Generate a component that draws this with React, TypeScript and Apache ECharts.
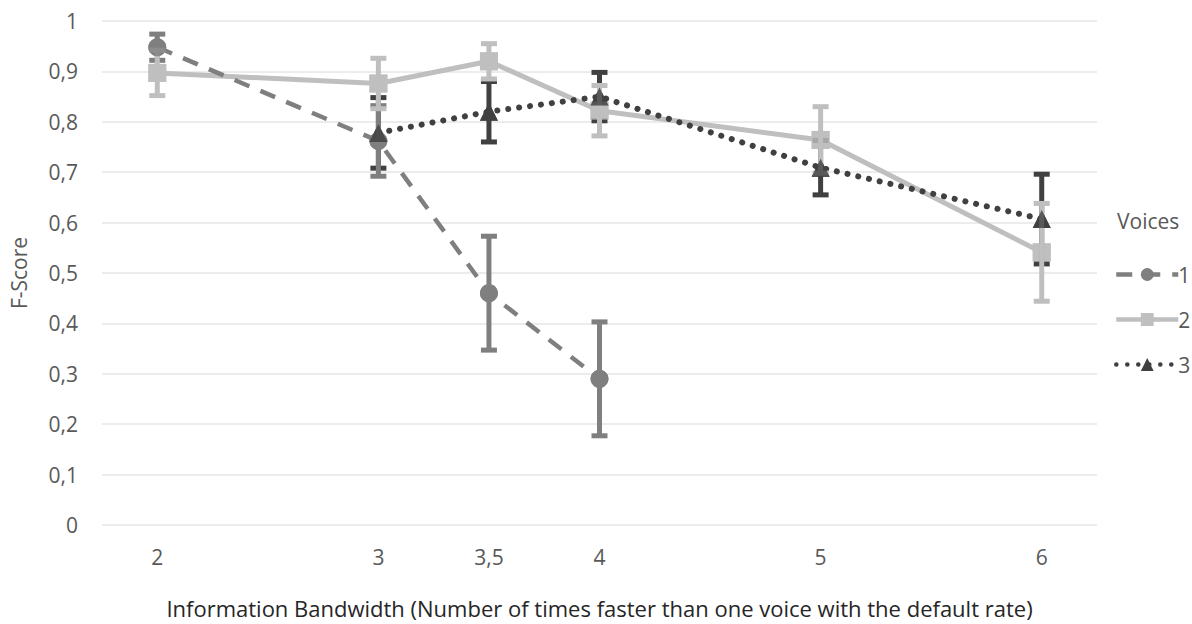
import React, { useEffect, useRef } from "react";
import * as echarts from "echarts";

const xTicks = [2, 3, 3.5, 4, 5, 6];
const yTickStep = 0.1;

const voices1X = [2, 3, 3.5, 4];
const voices1Y = [0.948, 0.762, 0.46, 0.29];
const voices1Err = [0.026, 0.07, 0.113, 0.113];

const voices2X = [2, 3, 3.5, 4, 5, 6];
const voices2Y = [0.897, 0.876, 0.92, 0.822, 0.764, 0.541];
const voices2Err = [0.045, 0.05, 0.035, 0.05, 0.066, 0.097];

const voices3X = [3, 3.5, 4, 5, 6];
const voices3Y = [0.778, 0.82, 0.85, 0.709, 0.607];
const voices3Err = [0.07, 0.06, 0.048, 0.054, 0.089];

const seriesNames = ["1", "2", "3"];
const colors = ["#7f7f7f", "#bfbfbf", "#404040"];

const FONT = "'Open Sans', 'Noto Sans', sans-serif";
const TEXT = "#595959";

function pairs(xs: number[], ys: number[]) {
  return xs.map((x, i) => [x, ys[i]]);
}
function errRows(xs: number[], ys: number[], es: number[]) {
  return xs.map((x, i) => [x, ys[i] - es[i], ys[i] + es[i]]);
}

function errorSeries(data: number[][], color: string, z: number) {
  return {
    type: "custom",
    z,
    silent: true,
    data,
    encode: { x: 0, y: [1, 2] },
    renderItem: (params: any, api: any) => {
      const x = api.value(0);
      const lo = api.coord([x, api.value(1)]);
      const hi = api.coord([x, api.value(2)]);
      const cap = 8;
      const st = { stroke: color, lineWidth: 5 };
      return {
        type: "group",
        children: [
          { type: "line", shape: { x1: lo[0], y1: lo[1], x2: hi[0], y2: hi[1] }, style: st },
          { type: "line", shape: { x1: lo[0] - cap, y1: lo[1], x2: lo[0] + cap, y2: lo[1] }, style: st },
          { type: "line", shape: { x1: hi[0] - cap, y1: hi[1], x2: hi[0] + cap, y2: hi[1] }, style: st },
        ],
      };
    },
  };
}

function markerSeries(data: number[][], symbol: string, color: string, z: number) {
  return {
    type: "scatter",
    z,
    silent: true,
    symbol,
    symbolSize: 18,
    itemStyle: { color },
    data,
  };
}

export default function App() {
  const ref = useRef<HTMLDivElement>(null);
  useEffect(() => {
    const chart = echarts.init(ref.current!, null, { renderer: "svg" });
    const d1 = pairs(voices1X, voices1Y);
    const d2 = pairs(voices2X, voices2Y);
    const d3 = pairs(voices3X, voices3Y);
    chart.setOption({
      animation: false,
      textStyle: { fontFamily: FONT },
      grid: { left: 102, right: 95, top: 21, bottom: 96, containLabel: false },
      xAxis: {
        type: "value",
        min: 1.75,
        max: 6.25,
        splitLine: { show: false },
        axisLine: { show: false },
        axisTick: { show: false },
        axisLabel: {
          customValues: xTicks,
          color: TEXT,
          fontSize: 21,
          fontFamily: FONT,
          margin: 21,
          formatter: (v: number) => String(v).replace(".", ","),
        },
        name: "Information Bandwidth (Number of times faster than one voice with the default rate)",
        nameLocation: "middle",
        nameGap: 72,
        nameTextStyle: { color: "#262626", fontSize: 22, fontFamily: FONT },
      },
      yAxis: {
        type: "value",
        min: 0,
        max: 1,
        interval: yTickStep,
        axisLine: { show: false },
        axisTick: { show: false },
        splitLine: { lineStyle: { color: "#e6e6e6", width: 1.5 } },
        axisLabel: {
          color: TEXT,
          fontSize: 21,
          fontFamily: FONT,
          margin: 24,
          formatter: (v: number) => String(Math.round(v * 10) / 10).replace(".", ","),
        },
        name: "F-Score",
        nameLocation: "middle",
        nameGap: 73,
        nameTextStyle: { color: TEXT, fontSize: 21, fontFamily: FONT },
      },
      legend: {
        data: seriesNames,
        orient: "vertical",
        left: 1109,
        top: 259,
        itemWidth: 62,
        itemHeight: 16,
        itemGap: 24,
        lineStyle: { width: 4.5 },
        textStyle: { color: TEXT, fontSize: 21, fontFamily: FONT, padding: [0, 0, 0, -5] },
      },
      graphic: [
        {
          type: "text",
          left: 1117,
          top: 210,
          style: { text: "Voices", fill: TEXT, font: `21px ${FONT}` },
        },
      ],
      series: [
        {
          name: "1",
          type: "line",
          z: 2,
          data: d1,
          symbol: "circle",
          symbolSize: 18,
          color: colors[0],
          lineStyle: { color: colors[0], width: 4.5, type: [16, 12] },
          itemStyle: { color: colors[0] },
        },
        {
          name: "2",
          type: "line",
          z: 1,
          data: d2,
          symbol: "rect",
          symbolSize: 18,
          color: colors[1],
          lineStyle: { color: colors[1], width: 5, type: "solid" },
          itemStyle: { color: colors[1] },
        },
        {
          name: "3",
          type: "line",
          z: 2,
          data: d3,
          symbol: "triangle",
          symbolSize: 18,
          color: colors[2],
          lineStyle: { color: colors[2], width: 6, type: [0.1, 10.9], cap: "round" },
          itemStyle: { color: colors[2] },
        },
        errorSeries(errRows(voices3X, voices3Y, voices3Err), colors[2], 3),
        errorSeries(errRows(voices1X, voices1Y, voices1Err), colors[0], 4),
        errorSeries(errRows(voices2X, voices2Y, voices2Err), colors[1], 5),
        markerSeries(d2, "rect", colors[1], 6),
        markerSeries(d1, "circle", colors[0], 7),
        markerSeries(d3, "triangle", colors[2], 8),
      ],
    });
    return () => chart.dispose();
  }, []);
  return <div ref={ref} style={{ width: 1192, height: 624, position: "absolute", left: 0, top: 0 }} />;
}
